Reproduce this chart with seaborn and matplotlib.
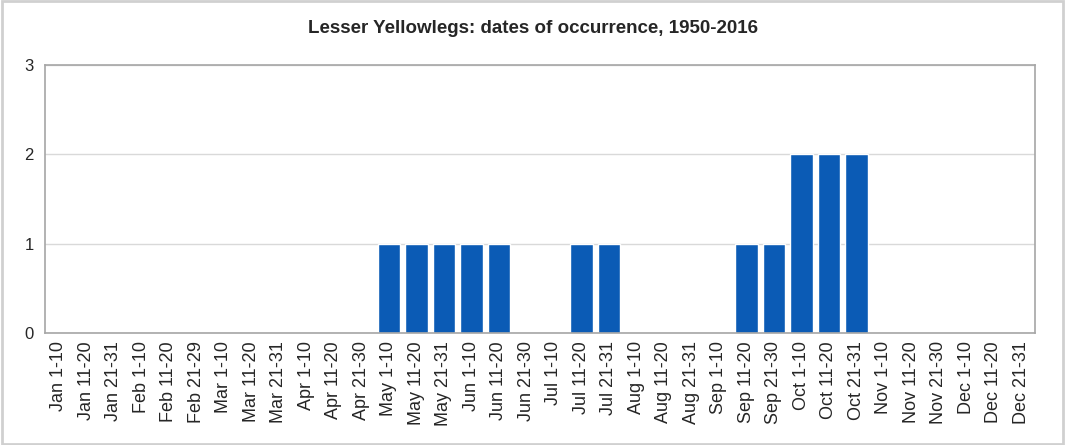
import matplotlib
matplotlib.use('Agg')
import matplotlib.pyplot as plt
import seaborn as sns
import pandas as pd

# periods of the year and number of records in each
months = ['Jan', 'Feb', 'Mar', 'Apr', 'May', 'Jun',
          'Jul', 'Aug', 'Sep', 'Oct', 'Nov', 'Dec']
month_ends = [31, 29, 31, 30, 31, 30, 31, 31, 30, 31, 30, 31]
periods = []
for m, e in zip(months, month_ends):
    periods += [m + ' 1-10', m + ' 11-20', m + ' 21-' + str(e)]

counts = [0, 0, 0, 0, 0, 0, 0, 0, 0, 0, 0, 0,
          1, 1, 1, 1, 1, 0, 0, 1, 1, 0, 0, 0,
          0, 1, 1, 2, 2, 2, 0, 0, 0, 0, 0, 0]

df = pd.DataFrame({'period': periods, 'count': counts})

sns.set_style('white')
plt.rcParams['font.family'] = ['Liberation Sans', 'DejaVu Sans']

fig = plt.figure(figsize=(10.65, 4.45), dpi=100)
ax = fig.add_axes([0.0423, 0.252, 0.9297, 0.602])

sns.barplot(data=df, x='period', y='count', color='#0B5BB5',
            saturation=1, width=0.82, ax=ax)

ax.set_ylim(0, 3)
ax.set_yticks([0, 1, 2, 3])
ax.yaxis.grid(True, color='#D9D9D9', linewidth=1)
ax.set_axisbelow(True)
ax.set_xlim(-0.5, len(periods) - 0.5)
ax.set_xlabel('')
ax.set_ylabel('')
ax.tick_params(axis='x', labelrotation=90, labelsize=13, length=0, pad=6)
ax.tick_params(axis='y', labelsize=12, length=0, pad=8)
for s in ax.spines.values():
    s.set_color('#A6A6A6')
    s.set_linewidth(1.2)

fig.text(0.5, 0.937, 'Lesser Yellowlegs: dates of occurrence, 1950-2016',
         ha='center', va='center', fontsize=13.5, fontweight='bold')

# outer frame of the chart
fig.patches.append(plt.Rectangle((0.002, 0.003), 0.996, 0.994, transform=fig.transFigure,
                                 fill=False, edgecolor='#D0D0D0', linewidth=2))

fig.savefig('out.png', dpi=100)
